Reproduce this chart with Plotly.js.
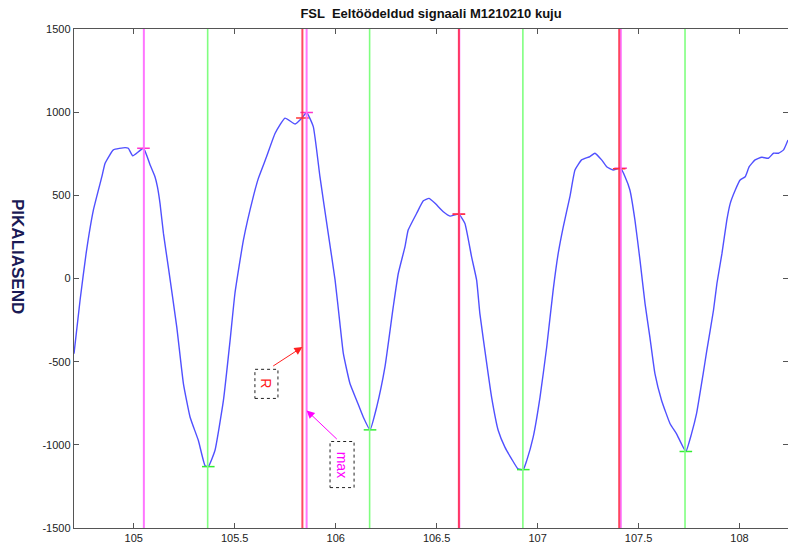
<!DOCTYPE html>
<html>
<head>
<meta charset="utf-8">
<script src="https://cdn.plot.ly/plotly-3.0.1.min.js"></script>
<style>html,body{margin:0;padding:0;background:#fff;}#chart{width:788px;height:548px;}</style>
</head>
<body>
<div id="chart"></div>
<script>
// Signal (time, s) and value
const sigX = [104.704,104.734,104.764,104.800,104.842,104.858,104.899,104.957,104.973,104.995,105.048,105.081,105.105,105.117,105.130,105.147,105.171,105.213,105.246,105.279,105.320,105.353,105.369,105.402,105.444,105.477,105.501,105.543,105.592,105.617,105.658,105.700,105.749,105.799,105.832,105.856,105.889,105.922,105.963,105.997,106.021,106.038,106.071,106.104,106.137,106.170,106.203,106.244,106.285,106.310,106.343,106.359,106.401,106.434,106.462,106.492,106.533,106.566,106.610,106.640,106.673,106.698,106.714,106.748,106.772,106.805,106.838,106.871,106.903,106.929,106.946,106.978,107.012,107.045,107.077,107.102,107.127,107.160,107.185,107.218,107.259,107.284,107.317,107.342,107.374,107.411,107.433,107.457,107.482,107.507,107.532,107.556,107.581,107.614,107.656,107.688,107.734,107.762,107.787,107.820,107.838,107.871,107.888,107.913,107.937,107.954,107.979,108.003,108.028,108.048,108.077,108.110,108.143,108.168,108.193,108.218,108.240];
const sigY = [-452,-131,151,411,612,693,773,787,783,737,783,682,612,552,452,271,70,-292,-633,-834,-974,-1125,-1131,-1034,-733,-372,-90,231,492,602,733,873,964,929,964,998,913,612,271,-10,-271,-452,-633,-733,-834,-910,-773,-532,-171,30,190,291,392,467,482,452,401,375,387,331,130,-10,-211,-512,-713,-914,-1014,-1084,-1145,-1149,-1095,-954,-713,-412,-70,151,311,492,652,713,733,753,713,672,652,663,612,532,351,110,-151,-352,-572,-733,-873,-934,-1040,-934,-813,-572,-432,-191,-30,151,351,452,532,592,612,672,713,729,723,753,753,773,833];

// Detected points
const maxX = [105.048,105.856,106.610,107.411];
const maxY = [783,998,387,663];
const minX = [105.369,106.170,106.929,107.734];
const minY = [-1131,-910,-1149,-1040];
const rX = [105.835,106.610,107.404];
const rY = [965,387,660];

// Vertical marker lines
const maxLines = [105.050,105.856,106.612,107.412];
const rLines = [105.835,106.610,107.404];
const minLines = [105.366,106.168,106.927,107.730];

const xTicks = [105,105.5,106,106.5,107,107.5,108];
const xTickText = ['105','105.5','106','106.5','107','107.5','108'];
const yTicks = [-1500,-1000,-500,0,500,1000,1500];

const titleText = 'FSL  Eeltöödeldud signaali M1210210 kuju';
const yTitle = 'PIKALIASEND';

const shapes = [];
maxLines.forEach(x => shapes.push({type:'line',xref:'x',yref:'paper',x0:x,x1:x,y0:0,y1:1,line:{color:'rgba(255,110,255,0.95)',width:2},layer:'above'}));
minLines.forEach(x => shapes.push({type:'line',xref:'x',yref:'paper',x0:x,x1:x,y0:0,y1:1,line:{color:'#80ff80',width:1.6},layer:'above'}));
rLines.forEach(x => shapes.push({type:'line',xref:'x',yref:'paper',x0:x,x1:x,y0:0,y1:1,line:{color:'rgba(255,40,70,0.85)',width:2},layer:'above'}));
// dotted label boxes
shapes.push({type:'rect',xref:'x',yref:'y',x0:105.600,x1:105.714,y0:-721,y1:-546,line:{color:'#222',width:1,dash:'dot'},fillcolor:'rgba(255,255,255,0)'});
shapes.push({type:'rect',xref:'x',yref:'y',x0:105.972,x1:106.091,y0:-1257,y1:-980,line:{color:'#222',width:1,dash:'dot'},fillcolor:'rgba(255,255,255,0)'});

const traces = [
  {x:sigX,y:sigY,type:'scatter',mode:'lines',line:{color:'rgb(80,80,255)',width:1.4,shape:'spline',smoothing:0.4},hoverinfo:'skip'},
  {x:maxX,y:maxY,type:'scatter',mode:'markers',marker:{symbol:'line-ew',size:9,line:{color:'#ff33cc',width:1.5}}},
  {x:minX,y:minY,type:'scatter',mode:'markers',marker:{symbol:'line-ew',size:9,line:{color:'#33ee33',width:1.5}}},
  {x:rX,y:rY,type:'scatter',mode:'markers',marker:{symbol:'line-ew',size:9,line:{color:'#ff3333',width:1.5}}}
];

const axisCommon = {showgrid:false,zeroline:false,showline:true,linecolor:'#555',linewidth:1.2,ticks:'inside',ticklen:5,tickcolor:'#555',tickwidth:1,mirror:'ticks',tickfont:{family:'Liberation Sans, Arial, sans-serif',size:11,color:'#222'}};

const layout = {
  width:788,height:548,
  margin:{l:74,r:0,t:29,b:20},
  paper_bgcolor:'#fff',plot_bgcolor:'#fff',
  showlegend:false,
  title:{text:'<b>'+titleText+'</b>',x:0.547,xanchor:'center',y:0.975,yanchor:'middle',font:{family:'Liberation Sans, Arial, sans-serif',size:13,color:'#111'}},
  xaxis:Object.assign({},axisCommon,{range:[104.704,108.24],tickvals:xTicks,ticktext:xTickText}),
  yaxis:Object.assign({},axisCommon,{range:[-1500,1500],tickvals:yTicks,ticktext:yTicks.map(String)}),
  shapes:shapes,
  annotations:[
    {xref:'paper',yref:'paper',x:-0.0784,xanchor:'center',y:0.545,yanchor:'middle',text:'<b>'+yTitle+'</b>',textangle:90,showarrow:false,font:{family:'Liberation Sans, Arial, sans-serif',size:17,color:'#1a1a55'}},
    {xref:'x',yref:'y',x:105.657,y:-633,text:'R',textangle:90,showarrow:false,font:{family:'Liberation Sans, Arial, sans-serif',size:14,color:'#ff2020'}},
    {xref:'x',yref:'y',x:106.031,y:-1119,text:'max',textangle:90,showarrow:false,font:{family:'Liberation Sans, Arial, sans-serif',size:14,color:'#ff00ff'}},
    {xref:'x',yref:'y',x:rLines[0],y:-412,axref:'x',ayref:'y',ax:105.683,ay:-532,text:'',showarrow:true,arrowhead:2,arrowsize:1.6,arrowwidth:1,arrowcolor:'#ff2020'},
    {xref:'x',yref:'y',x:maxLines[1],y:-793,axref:'x',ayref:'y',ax:106.013,ay:-974,text:'',showarrow:true,arrowhead:2,arrowsize:1.6,arrowwidth:1,arrowcolor:'#ff00ff'}
  ]
};

Plotly.newPlot('chart',traces,layout,{displayModeBar:false,staticPlot:true});
</script>
</body>
</html>
